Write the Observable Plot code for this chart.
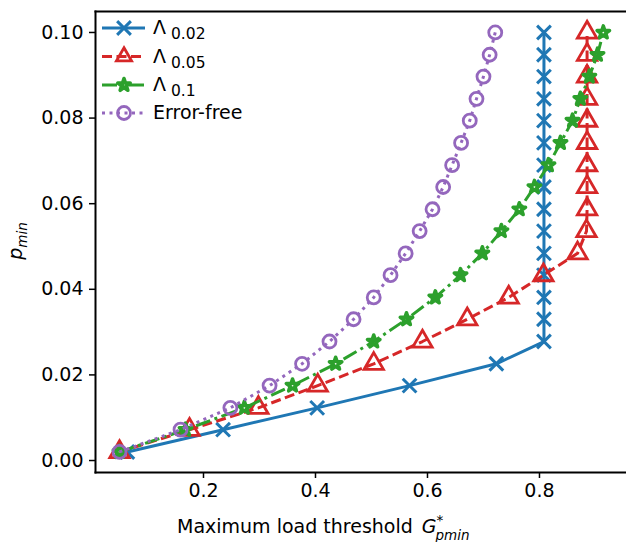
<!DOCTYPE html>
<html><head><meta charset="utf-8">
<script src="https://cdn.jsdelivr.net/npm/d3@7"></script>
<script src="https://cdn.jsdelivr.net/npm/@observablehq/plot@0.6"></script>
<style>body{margin:0;background:#fff;} svg{font-family:"DejaVu Sans";}</style>
</head><body><div id="chart"></div><script>
const pMin = [0.0020, 0.0072, 0.0123, 0.0175, 0.0226, 0.0278, 0.0330, 0.0381, 0.0433, 0.0484, 0.0536, 0.0587, 0.0639, 0.0690, 0.0742, 0.0794, 0.0845, 0.0897, 0.0948, 0.1000];
const lambda002 = [0.064, 0.235, 0.403, 0.568, 0.723, 0.808, 0.808, 0.808, 0.808, 0.808, 0.808, 0.808, 0.808, 0.808, 0.808, 0.808, 0.808, 0.808, 0.808, 0.808];
const lambda005 = [0.050, 0.175, 0.298, 0.404, 0.504, 0.591, 0.671, 0.745, 0.807, 0.868, 0.884, 0.885, 0.885, 0.885, 0.885, 0.885, 0.885, 0.885, 0.885, 0.885];
const lambda01 = [0.050, 0.168, 0.273, 0.359, 0.436, 0.504, 0.5625, 0.614, 0.659, 0.698, 0.732, 0.764, 0.791, 0.816, 0.8375, 0.859, 0.873, 0.889, 0.9036, 0.914];
const errorFree = [0.050, 0.159, 0.248, 0.318, 0.376, 0.425, 0.468, 0.504, 0.534, 0.561, 0.586, 0.609, 0.628, 0.644, 0.660, 0.6755, 0.6875, 0.700, 0.711, 0.721];
const xTicks = [0.2, 0.4, 0.6, 0.8];
const yTicks = [0.00, 0.02, 0.04, 0.06, 0.08, 0.10];

const series = [
  {name: "Λ", sub: "0.02", xs: lambda002, color: "#1f77b4", dash: null, symbol: "times", r: 6.3, sw: 3},
  {name: "Λ", sub: "0.05", xs: lambda005, color: "#d62728", dash: "10,4.5", symbol: "triangle", r: 7.2, sw: 2.8},
  {name: "Λ", sub: "0.1", xs: lambda01, color: "#2ca02c", dash: "15,4.5,3,4.5", symbol: "star", r: 3.9, sw: 3.6},
  {name: "Error-free", sub: null, xs: errorFree, color: "#9467bd", dash: "3,4.5", symbol: "circle", r: 6.5, sw: 2.8}
];
const tables = series.map(s => s.xs.map((x, i) => ({x, y: pMin[i]})));

const marks = [];
series.forEach((s, k) => {
  marks.push(Plot.line(tables[k], {x: "x", y: "y", stroke: s.color, strokeWidth: 3, strokeDasharray: s.dash, strokeLinecap: "butt"}));
  marks.push(Plot.dot(tables[k], {x: "x", y: "y", symbol: () => s.symbol, r: s.r, stroke: s.color, strokeWidth: s.sw, strokeLinejoin: s.symbol === "star" ? "round" : "miter", fill: "none"}));
});

const chart = Plot.plot({
  width: 626, height: 542,
  marginLeft: 95, marginRight: 0, marginTop: 11, marginBottom: 70,
  style: {fontFamily: "DejaVu Sans", fontSize: "19px", color: "black", background: "white", overflow: "visible"},
  x: {domain: [0.00714, 0.9554], label: null},
  y: {domain: [-0.0028, 0.1049], label: null},
  symbol: {type: "identity"},
  marks: [
    Plot.axisX({ticks: xTicks, tickFormat: ".1f", tickSize: 6, tickPadding: 5, strokeWidth: 1.5, fontSize: 19, label: null}),
    Plot.axisY({ticks: yTicks, tickFormat: ".2f", tickSize: 6, tickPadding: 6, strokeWidth: 1.5, fontSize: 19, label: null}),
    ...marks,
    Plot.frame({anchor: "left", stroke: "black", strokeWidth: 2}),
    Plot.frame({anchor: "bottom", stroke: "black", strokeWidth: 2}),
    Plot.frame({anchor: "top", stroke: "black", strokeWidth: 2})
  ]
});
document.getElementById("chart").appendChild(chart);

// legend, labels
const svg = d3.select(chart);
const symMap = {times: d3.symbolTimes, triangle: d3.symbolTriangle2, star: d3.symbolStar, circle: d3.symbolCircle};
const leg = svg.append("g").attr("font-family", "DejaVu Sans").attr("text-anchor", "start");
const legY = [28, 56.5, 85, 113];
series.forEach((s, k) => {
  const g = leg.append("g").attr("transform", `translate(0,${legY[k]})`);
  g.append("line").attr("x1", 102).attr("x2", 145).attr("y1", 0).attr("y2", 0)
    .attr("stroke", s.color).attr("stroke-width", 3).attr("stroke-dasharray", s.dash || null);
  g.append("path").attr("transform", "translate(124,0)")
    .attr("d", d3.symbol(symMap[s.symbol], Math.PI * s.r * s.r)())
    .attr("fill", "none").attr("stroke", s.color).attr("stroke-width", s.sw)
    .attr("stroke-linejoin", s.symbol === "star" ? "round" : "miter");
  const t = g.append("text").attr("x", 153).attr("y", 6).attr("font-size", 19).attr("fill", "black");
  t.append("tspan").text(s.name);
  if (s.sub) t.append("tspan").attr("dx", 5).attr("dy", 5).attr("font-size", 15.5).text(s.sub);
});

// y label
const yl = svg.append("text").attr("transform", "translate(22,241) rotate(-90)")
  .attr("text-anchor", "middle").attr("font-size", 19).attr("fill", "black");
yl.append("tspan").attr("font-style", "italic").text("p");
yl.append("tspan").attr("font-style", "italic").attr("font-size", 13.5).attr("dy", 5).text("min");

// x label
const xl = svg.append("text").attr("x", 177).attr("y", 533).attr("text-anchor", "start").attr("font-size", 19).attr("fill", "black").text("Maximum load threshold");
const w = xl.node().getComputedTextLength();
const gx = 177 + w + 9;
const gt = svg.append("text").attr("x", gx).attr("y", 533).attr("text-anchor", "start").attr("font-size", 19).attr("font-style", "italic").attr("fill", "black").text("G");
const gw = gt.node().getComputedTextLength();
svg.append("text").attr("x", gx + gw).attr("y", 525).attr("text-anchor", "start").attr("font-size", 13.5).attr("font-style", "italic").attr("fill", "black").text("*");
svg.append("text").attr("x", gx + gw - 1).attr("y", 540).attr("text-anchor", "start").attr("font-size", 13.5).attr("font-style", "italic").attr("fill", "black").text("pmin");
</script></body></html>
